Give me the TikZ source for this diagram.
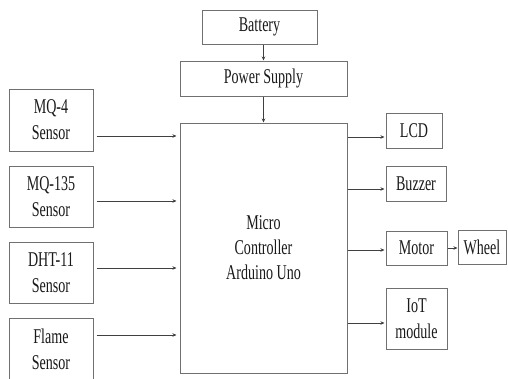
\documentclass[tikz,border=0pt]{standalone}
\usepackage{fontspec}
\setmainfont{Liberation Serif}[FakeStretch=0.67]
\usetikzlibrary{arrows.meta}
\definecolor{linec}{HTML}{707070}
\definecolor{textc}{HTML}{1A1A1A}
\begin{document}
\begin{tikzpicture}[x=1pt,y=-1pt,
  blk/.style={draw=linec,line width=1pt,fill=white,text=textc,inner sep=0pt,align=center,
    font=\fontsize{21}{26}\selectfont},
  arr/.style={draw=black!75,line width=0.8pt,-{Stealth[length=4pt,width=3.5pt]}}]
\clip (0,0) rectangle (508,378);
\fill[white] (0,0) rectangle (508,378);
% power chain
\node[blk,minimum width=115pt,minimum height=34pt] (bat) at (259.5,27) {Battery};
\node[blk,minimum width=167pt,minimum height=35pt] (ps) at (263.5,78.5) {Power Supply};
\node[blk,minimum width=167pt,minimum height=250pt,font=\fontsize{21}{25}\selectfont] (mc) at (263.5,248) {Micro\\Controller\\Arduino Uno};
% sensors
\node[blk,minimum width=84pt,minimum height=62pt] (mq4) at (51,120) {MQ-4\\Sensor};
\node[blk,minimum width=84pt,minimum height=61pt] (mq135) at (51,196.5) {MQ-135\\Sensor};
\node[blk,minimum width=84pt,minimum height=61pt] (dht) at (51,272.5) {DHT-11\\Sensor};
\node[blk,minimum width=84pt,minimum height=62pt] (flame) at (51,349) {Flame\\Sensor};
% outputs
\node[blk,minimum width=56pt,minimum height=35pt] (lcd) at (414,130.5) {LCD};
\node[blk,minimum width=60pt,minimum height=35pt] (buz) at (416,183.5) {Buzzer};
\node[blk,minimum width=61pt,minimum height=34pt] (mot) at (416.5,248) {Motor};
\node[blk,minimum width=48pt,minimum height=34pt] (whl) at (482,247) {Wheel};
\node[blk,minimum width=61pt,minimum height=61pt] (iot) at (416.5,318.5) {IoT\\module};
% connectors
\draw[arr] ([xshift=4pt]bat.south) -- ([xshift=4pt]bat.south |- ps.north);
\draw[arr] (ps.south) -- (mc.north);
\draw[arr,shorten <=3pt,shorten >=3pt] (mq4.east |- 0,136) -- (mc.west |- 0,136);
\draw[arr,shorten <=3pt,shorten >=3pt] (mq135.east |- 0,201) -- (mc.west |- 0,201);
\draw[arr,shorten <=3pt,shorten >=3pt] (dht.east |- 0,268) -- (mc.west |- 0,268);
\draw[arr,shorten <=3pt,shorten >=3pt] (flame.east |- 0,335) -- (mc.west |- 0,335);
\draw[arr,shorten >=1pt] (mc.east |- 0,137) -- (lcd.west |- 0,137);
\draw[arr,shorten >=1pt] (mc.east |- 0,189) -- (buz.west |- 0,189);
\draw[arr,shorten >=1pt] (mc.east |- 0,250) -- (mot.west |- 0,250);
\draw[arr,shorten >=1pt] (mc.east |- 0,323) -- (iot.west |- 0,323);
\draw[arr] (mot.east |- 0,248) -- (whl.west |- 0,248);
\end{tikzpicture}
\end{document}
